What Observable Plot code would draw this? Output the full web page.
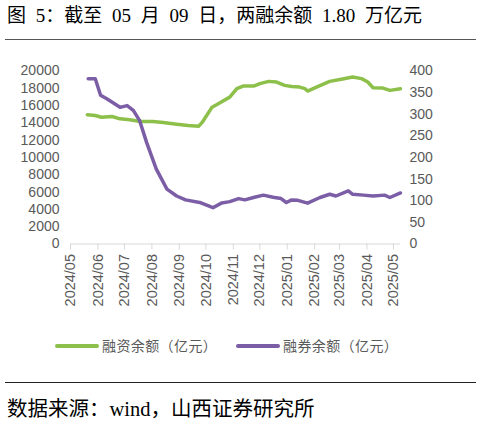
<!DOCTYPE html>
<html><head><meta charset="utf-8">
<script src="https://cdn.jsdelivr.net/npm/d3@7"></script>
<script src="https://cdn.jsdelivr.net/npm/@observablehq/plot@0.6"></script>
<style>
body{margin:0;width:482px;height:423px;position:relative;background:#fff;overflow:hidden;font-family:"Liberation Serif","Noto Sans CJK SC",serif;}
#title{position:absolute;left:7px;top:3px;font-size:19px;line-height:26px;word-spacing:5px;color:#000;white-space:nowrap;}
#rule1{position:absolute;left:5px;width:471px;top:38.5px;height:0;border-top:1.5px solid #555;}
#chart{position:absolute;left:0;top:40px;}
.sw{position:absolute;top:343.5px;height:4px;width:44px;border-radius:2px;}
.lt{position:absolute;top:335px;font-family:"Noto Sans CJK SC",sans-serif;font-size:14px;line-height:20px;letter-spacing:0.4px;color:#595959;white-space:nowrap;}
#rule2{position:absolute;left:5px;width:471px;top:382px;height:0;border-top:1.3px solid #222;}
#source{position:absolute;left:7px;top:396px;font-size:20.5px;line-height:26px;color:#000;white-space:nowrap;}
</style></head>
<body>
<div id="title">图 5：截至 05 月 09 日，两融余额 1.80 万亿元</div>
<div id="rule1"></div>
<div id="chart"></div>
<div class="sw" style="left:55px;background:#8DC04B"></div>
<div class="lt" style="left:102px">融资余额（亿元）</div>
<div class="sw" style="left:236px;background:#7B5EA6"></div>
<div class="lt" style="left:283px">融券余额（亿元）</div>
<div id="rule2"></div>
<div id="source">数据来源：wind，山西证券研究所</div>
<script>
const marginDates = ["2024-05-20","2024-05-29","2024-06-05","2024-06-17","2024-06-26","2024-07-07","2024-07-19","2024-08-02","2024-08-14","2024-08-29","2024-09-11","2024-09-23","2024-09-27","2024-10-08","2024-10-15","2024-10-28","2024-11-05","2024-11-12","2024-11-24","2024-12-01","2024-12-11","2024-12-20","2024-12-29","2025-01-06","2025-01-15","2025-01-21","2025-01-24","2025-02-03","2025-02-18","2025-03-03","2025-03-16","2025-03-26","2025-04-02","2025-04-08","2025-04-19","2025-04-27","2025-05-09"];
const marginValues = [14940,14860,14660,14740,14470,14360,14160,14160,14050,13850,13700,13620,14080,15820,16220,16980,17960,18260,18260,18540,18800,18720,18340,18200,18140,17960,17680,18140,18800,19040,19300,19120,18720,18070,18030,17760,17950];
const shortDates = ["2024-05-21","2024-05-29","2024-06-04","2024-06-11","2024-06-26","2024-07-04","2024-07-11","2024-07-18","2024-07-26","2024-08-06","2024-08-18","2024-08-29","2024-09-08","2024-09-24","2024-10-09","2024-10-19","2024-10-28","2024-11-07","2024-11-14","2024-11-25","2024-12-05","2024-12-16","2024-12-25","2024-12-31","2025-01-06","2025-01-13","2025-01-24","2025-02-07","2025-02-18","2025-02-25","2025-03-11","2025-03-16","2025-03-28","2025-04-08","2025-04-21","2025-04-27","2025-05-09"];
const shortValues = [382,382,344,336,316,320,309,286,235,173,127,111,102,96,84,95,98,105,102,108,113,108,105,96,102,101,94.5,107.5,115,111,123,115,113,111,113,107.5,118];
const monthTicks = ["2024/05","2024/06","2024/07","2024/08","2024/09","2024/10","2024/11","2024/12","2025/01","2025/02","2025/03","2025/04","2025/05"];
const leftTicks = [0,2000,4000,6000,8000,10000,12000,14000,16000,18000,20000];
const rightTicks = [0,50,100,150,200,250,300,350,400];

const parse = d3.utcParse("%Y-%m-%d");
const parseMonth = d3.utcParse("%Y/%m");
const SCALE = 50;
const marginData = marginDates.map((d, i) => ({date: parse(d), value: marginValues[i]}));
const shortData = shortDates.map((d, i) => ({date: parse(d), value: shortValues[i] * SCALE}));
const tickDates = monthTicks.map(t => parseMonth(t));

const chart = Plot.plot({
  width: 482, height: 290,
  marginTop: 30.5, marginBottom: 86.5, marginLeft: 70, marginRight: 82,
  style: {fontFamily: "'Liberation Sans', Arial, sans-serif", fontSize: "14px", color: "#595959", background: "transparent", overflow: "visible"},
  x: {type: "utc", domain: [parse("2024-05-01"), parse("2025-05-09")]},
  y: {domain: [0, 20000]},
  marks: [
    Plot.ruleY([0], {stroke: "#d9d9d9", strokeWidth: 1}),
    Plot.axisX({ticks: tickDates, tickFormat: d3.utcFormat("%Y/%m"), tickRotate: -90, tickSize: 6, tickPadding: 4, stroke: "#d9d9d9", fill: "#595959", fontSize: 14.5, label: null}),
    Plot.axisY({ticks: leftTicks, tickFormat: d => String(d), tickSize: 0, tickPadding: 11, fill: "#595959", label: null}),
    Plot.axisY({anchor: "right", ticks: rightTicks.map(v => v * SCALE), tickFormat: d => String(d / SCALE), tickSize: 0, tickPadding: 9, fill: "#595959", label: null}),
    Plot.line(marginData, {x: "date", y: "value", stroke: "#8DC04B", strokeWidth: 3.5, strokeLinejoin: "round", strokeLinecap: "round"}),
    Plot.line(shortData, {x: "date", y: "value", stroke: "#7B5EA6", strokeWidth: 3.5, strokeLinejoin: "round", strokeLinecap: "round"})
  ]
});
document.getElementById("chart").appendChild(chart);
</script>
</body></html>
